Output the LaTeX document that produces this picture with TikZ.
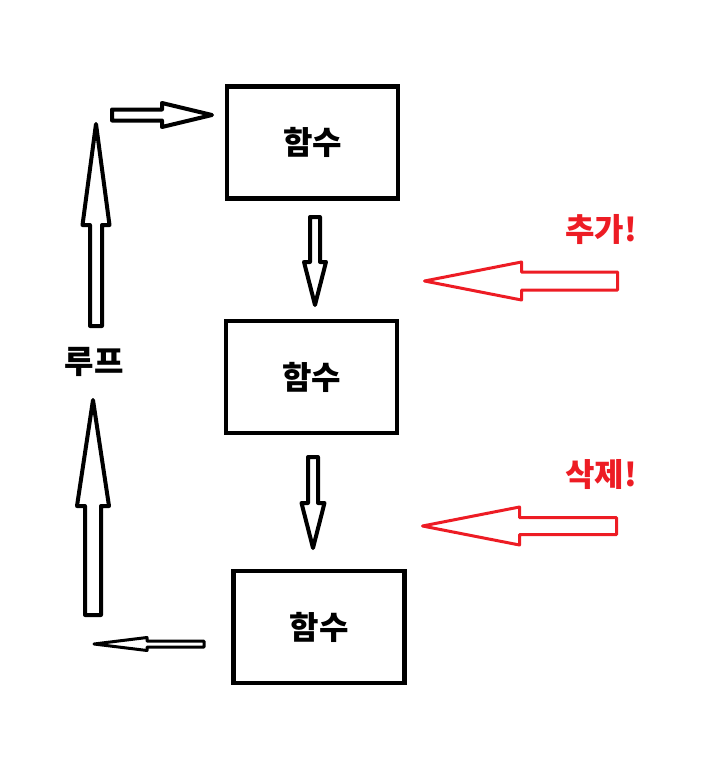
\documentclass[tikz,border=0pt]{standalone}
\usepackage{fontspec}
\newfontfamily\kofont{Noto Sans CJK KR}
\usetikzlibrary{calc,positioning}
\definecolor{paintred}{RGB}{237,28,36}

\begin{document}
\begin{tikzpicture}[x=1pt,y=-1pt]
   \tikzstyle{func}=[draw,line width=4.5pt,minimum width=171pt,minimum height=112pt,inner sep=0pt,font=\kofont\bfseries\fontsize{32}{38}\selectfont]
   \tikzstyle{lbl}=[inner sep=0pt,font=\kofont\bfseries\fontsize{32}{38}\selectfont]
   \tikzstyle{ar}=[draw,line width=4pt,line join=round]
   \tikzstyle{rar}=[draw=paintred,line width=3pt,line join=round]
   % hollow block arrow: shaft half width, head half width, head length
   \tikzset{fat/.style n args={3}{to path={
      ($(\tikztostart)!#1!90:(\tikztotarget)$)
      -- ($($(\tikztotarget)!#3!(\tikztostart)$)!#1!90:(\tikztotarget)$)
      -- ($($(\tikztotarget)!#3!(\tikztostart)$)!#2!90:(\tikztotarget)$)
      -- (\tikztotarget)
      -- ($($(\tikztotarget)!#3!(\tikztostart)$)!#2!-90:(\tikztotarget)$)
      -- ($($(\tikztotarget)!#3!(\tikztostart)$)!#1!-90:(\tikztotarget)$)
      -- ($(\tikztostart)!#1!-90:(\tikztotarget)$) -- cycle}}}

   \useasboundingbox (0,0) rectangle (707,761);

   \node (fn1) [func] at (312.5,142.5) {함수};
   \node (fn2) [func] at (311.5,377) {함수};
   \node (fn3) [func] at (319,627) {함수};

   \node (looplbl) [lbl] at (94,362) {루프};
   \node (addlbl) [lbl,text=paintred] at (601,230) {추가!};
   \node (dellbl) [lbl,text=paintred] at (601,475) {삭제!};

   \coordinate (inS) at (112,115);    \coordinate (inE) at (212,115);
   \coordinate (upS) at (96,326);     \coordinate (upE) at (96,124);
   \coordinate (dn1S) at (315,217);   \coordinate (dn1E) at (315,305);
   \coordinate (dn2S) at (313,457);   \coordinate (dn2E) at (313,548);
   \coordinate (up2S) at (93,615);    \coordinate (up2E) at (93,400);
   \coordinate (outS) at (204,644);   \coordinate (outE) at (94,644);
   \coordinate (addS) at (617.5,281); \coordinate (addE) at (424.5,281);
   \coordinate (delS) at (616.5,526); \coordinate (delE) at (422.5,526);

   \draw [ar,fat={5.5pt}{12pt}{50pt}] (inS) to (inE);
   \draw [ar,fat={6pt}{13.5pt}{101pt}] (upS) to (upE);
   \draw [ar,fat={5pt}{11pt}{43pt}] (dn1S) to (dn1E);
   \draw [ar,fat={5pt}{11.5pt}{45pt}] (dn2S) to (dn2E);
   \draw [ar,fat={8pt}{16pt}{106pt}] (up2S) to (up2E);
   \draw [ar,line width=3pt,fat={3pt}{6.5pt}{53pt}] (outS) to (outE);
   \draw [rar,fat={9pt}{19pt}{97pt}] (addS) to (addE);
   \draw [rar,fat={8.5pt}{19pt}{97pt}] (delS) to (delE);
\end{tikzpicture}
\end{document}
